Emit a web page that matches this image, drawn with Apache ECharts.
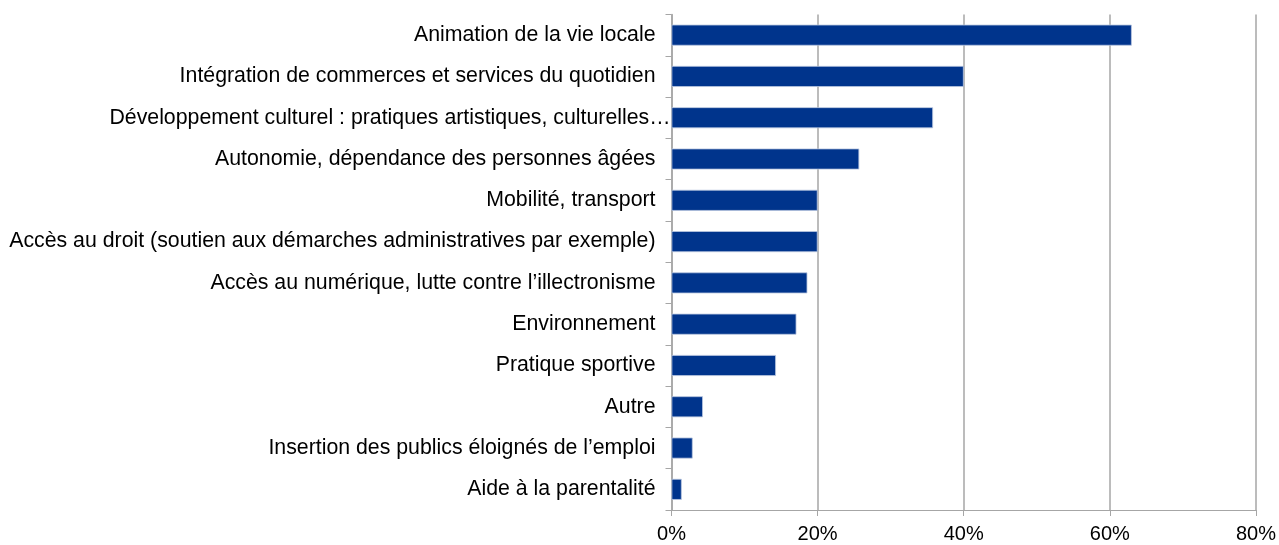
<!DOCTYPE html>
<html>
<head>
<meta charset="utf-8">
<script src="https://cdn.jsdelivr.net/npm/echarts@6/dist/echarts.min.js"></script>
<style>
  html, body { margin: 0; padding: 0; background: #fff; }
  #chart { width: 1279px; height: 545px; }
</style>
</head>
<body>
<div id="chart"></div>
<script>
// Thématiques (de haut en bas)
const categories = [
  "Animation de la vie locale",
  "Intégration de commerces et services du quotidien",
  "Développement culturel : pratiques artistiques, culturelles…",
  "Autonomie, dépendance des personnes âgées",
  "Mobilité, transport",
  "Accès au droit (soutien aux démarches administratives par exemple)",
  "Accès au numérique, lutte contre l’illectronisme",
  "Environnement",
  "Pratique sportive",
  "Autre",
  "Insertion des publics éloignés de l’emploi",
  "Aide à la parentalité"
];
// Part des répondants (%)
const values = [63.0, 40.0, 35.8, 25.7, 20.0, 20.0, 18.6, 17.1, 14.3, 4.3, 2.9, 1.4];
// Graduations de l'axe des valeurs
const xTicks = [0, 20, 40, 60, 80];

const chart = echarts.init(document.getElementById('chart'));
const font = '"Liberation Sans", Arial, sans-serif';

// The truncated label runs right up to the axis line
const yData = categories.map(c => c.endsWith('…')
  ? { value: c, textStyle: { padding: [0, -15, 0, 0] } }
  : c);

chart.setOption({
  animation: false,
  grid: { left: 671.5, right: 23, top: 14.5, bottom: 35, containLabel: false },
  xAxis: {
    type: 'value',
    min: xTicks[0],
    max: xTicks[xTicks.length - 1],
    interval: xTicks[1] - xTicks[0],
    axisLine: { show: true, lineStyle: { color: '#a6a6a6', width: 1 } },
    axisTick: { show: true, length: 6, lineStyle: { color: '#a6a6a6' } },
    axisLabel: { formatter: v => v + '%', color: '#000', fontFamily: font, fontSize: 20, margin: 14 },
    splitLine: { show: true, lineStyle: { color: '#a6a6a6', width: 1.5 } }
  },
  yAxis: {
    type: 'category',
    data: yData,
    inverse: true,
    axisLine: { show: true, lineStyle: { color: '#a6a6a6', width: 1.5 } },
    axisTick: { show: true, length: 6, lineStyle: { color: '#a6a6a6' } },
    axisLabel: { color: '#000', fontFamily: font, fontSize: 21.3, margin: 16 }
  },
  series: [{
    type: 'bar',
    data: values,
    barWidth: 21,
    itemStyle: { color: '#00348c', borderColor: '#b9c6e0', borderWidth: 0.8 }
  }]
});
</script>
</body>
</html>
